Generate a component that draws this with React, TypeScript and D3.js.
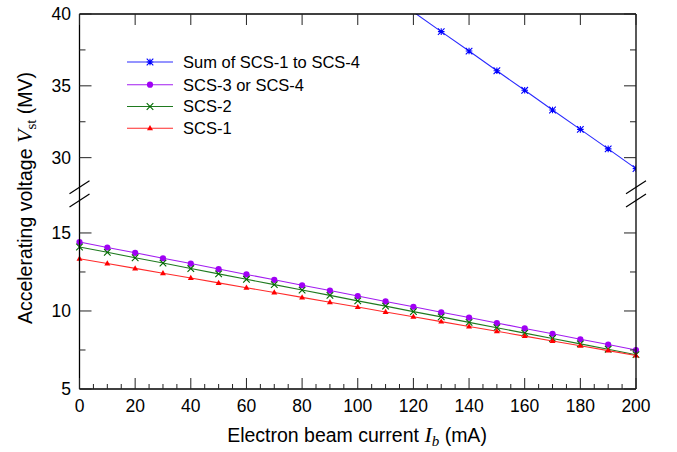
import React from "react";
import * as d3 from "d3";

// Electron beam current (mA)
const currents = [0, 10, 20, 30, 40, 50, 60, 70, 80, 90, 100, 110, 120, 130, 140, 150, 160, 170, 180, 190, 200];

// Accelerating voltage (MV) per superconducting cavity string
const scs1 = [13.35, 13.04, 12.73, 12.42, 12.11, 11.8, 11.49, 11.18, 10.87, 10.56, 10.25, 9.94, 9.63, 9.32, 9.01, 8.7, 8.39, 8.08, 7.77, 7.46, 7.15];
const scs2 = [14.1, 13.76, 13.41, 13.07, 12.72, 12.38, 12.03, 11.69, 11.34, 11.0, 10.65, 10.31, 9.96, 9.62, 9.27, 8.93, 8.58, 8.24, 7.89, 7.55, 7.2];
const scs34 = [14.42, 14.07, 13.73, 13.38, 13.04, 12.69, 12.34, 12.0, 11.65, 11.31, 10.96, 10.61, 10.27, 9.92, 9.58, 9.23, 8.88, 8.54, 8.19, 7.85, 7.5];
const scsSum = [56.52, 55.15, 53.79, 52.42, 51.06, 49.69, 48.33, 46.96, 45.6, 44.23, 42.87, 41.5, 40.14, 38.77, 37.42, 36.05, 34.69, 33.32, 31.97, 30.61, 29.24];

const xTicks = [0, 20, 40, 60, 80, 100, 120, 140, 160, 180, 200];
const yUpperTicks = [30, 35, 40];
const yLowerTicks = [5, 10, 15];

const legendLabels = ["Sum of SCS-1 to SCS-4", "SCS-3 or SCS-4", "SCS-2", "SCS-1"];

const W = 677;
const H = 452;
const left = 79.5;
const right = 636;
const top = 14;
const bottom = 389;
const breakUpperY = 186.4;
const breakLowerY = 200.2;

const x = d3.scaleLinear().domain([0, 200]).range([left, right]);
const yUp = d3.scaleLinear().domain([28, 40]).range([breakUpperY, top]);
const yLo = d3.scaleLinear().domain([5, 17.1]).range([bottom, breakLowerY]);
const y = (v: number) => (v >= 22 ? yUp(v) : yLo(v));

const SANS = "'Liberation Sans', Arial, Helvetica, sans-serif";
const SERIF = "'Liberation Serif', 'Times New Roman', serif";

type Kind = "star" | "circle" | "cross" | "triangle";

function Marker({ kind, cx, cy, color }: { kind: Kind; cx: number; cy: number; color: string }) {
  const s = 3.3;
  if (kind === "circle") return <circle cx={cx} cy={cy} r={3.1} fill={color} />;
  if (kind === "triangle")
    return (
      <path
        d={`M${cx},${cy - 3.2}L${cx + 3},${cy + 2}L${cx - 3},${cy + 2}Z`}
        fill={color}
      />
    );
  if (kind === "cross")
    return (
      <path
        d={`M${cx - s},${cy - s}L${cx + s},${cy + s}M${cx - s},${cy + s}L${cx + s},${cy - s}`}
        stroke={color}
        strokeWidth={1.1}
        fill="none"
      />
    );
  return (
    <path
      d={`M${cx - s},${cy - s}L${cx + s},${cy + s}M${cx - s},${cy + s}L${cx + s},${cy - s}M${cx},${cy - s}L${cx},${cy + s}M${cx - s},${cy}L${cx + s},${cy}`}
      stroke={color}
      strokeWidth={1.1}
      fill="none"
    />
  );
}

const series = [
  { name: legendLabels[0], values: scsSum, line: "#2b2bff", mark: "#0000ff", kind: "star" as Kind, upper: true },
  { name: legendLabels[1], values: scs34, line: "#a21cf0", mark: "#a000f5", kind: "circle" as Kind, upper: false },
  { name: legendLabels[2], values: scs2, line: "#1f7a1f", mark: "#006a00", kind: "cross" as Kind, upper: false },
  { name: legendLabels[3], values: scs1, line: "#ff2a2a", mark: "#ff0000", kind: "triangle" as Kind, upper: false },
];

export default function App() {
  const line = d3
    .line<number>()
    .x((_, i) => x(currents[i]))
    .y((v) => y(v));

  const minorX = d3.range(0, 201, 5).filter((v) => v % 20 !== 0);
  const minorYUp = [32.5, 37.5];
  const minorYLo = [7.5, 12.5];

  const slash = (cx: number, cy: number) => `M${cx - 10},${cy + 6.5}L${cx + 10},${cy - 6.5}`;
  const slashY = [187.2, 200.6];

  return (
    <div style={{ position: "fixed", left: 0, top: 0 }}>
      <svg width={W} height={H} style={{ display: "block", background: "#fff" }}>
        <defs>
          <clipPath id="upperPanel">
            <rect x={left} y={top} width={right - left} height={breakUpperY - top} />
          </clipPath>
        </defs>

        {/* series */}
        {series.map((s) => (
          <g key={s.name} clipPath={s.upper ? "url(#upperPanel)" : undefined}>
            <path d={line(s.values) || ""} fill="none" stroke={s.line} strokeWidth={1.1} />
            {s.values.map((v, i) =>
              s.upper && v > 40 ? null : (
                <Marker key={i} kind={s.kind} cx={x(currents[i])} cy={y(v)} color={s.mark} />
              )
            )}
          </g>
        ))}

        {/* frame */}
        <g stroke="#000" fill="none">
          <line x1={left} x2={right} y1={top} y2={top} strokeWidth={1.3} />
          <line x1={left} x2={right} y1={bottom} y2={bottom} strokeWidth={1.3} />
          <line x1={left} x2={left} y1={top} y2={bottom} strokeWidth={1.3} />
          <line x1={right} x2={right} y1={top} y2={bottom} strokeWidth={1.3} />
        </g>

        {/* axis break marks */}
        <g stroke="#000" strokeWidth={1.2} fill="none">
          {slashY.map((cy) => (
            <React.Fragment key={cy}>
              <path d={slash(left, cy)} />
              <path d={slash(right, cy)} />
            </React.Fragment>
          ))}
        </g>

        {/* x ticks */}
        <g stroke="#222" strokeWidth={1}>
          {xTicks.map((t) => (
            <React.Fragment key={t}>
              <line x1={x(t)} x2={x(t)} y1={bottom} y2={bottom - 11} />
              <line x1={x(t)} x2={x(t)} y1={top} y2={top + 11} />
            </React.Fragment>
          ))}
          {minorX.map((t) => (
            <line key={t} x1={x(t)} x2={x(t)} y1={bottom} y2={bottom - 5} />
          ))}
        </g>

        {/* y ticks */}
        <g stroke="#222" strokeWidth={1}>
          {yUpperTicks.map((t) => (
            <React.Fragment key={t}>
              <line x1={left} x2={left + 12} y1={yUp(t)} y2={yUp(t)} />
              <line x1={right} x2={right - 12} y1={yUp(t)} y2={yUp(t)} />
            </React.Fragment>
          ))}
          {yLowerTicks.map((t) => (
            <React.Fragment key={t}>
              <line x1={left} x2={left + 12} y1={yLo(t)} y2={yLo(t)} />
              <line x1={right} x2={right - 12} y1={yLo(t)} y2={yLo(t)} />
            </React.Fragment>
          ))}
          {minorYUp.map((t) => (
            <React.Fragment key={t}>
              <line x1={left} x2={left + 6} y1={yUp(t)} y2={yUp(t)} />
              <line x1={right} x2={right - 6} y1={yUp(t)} y2={yUp(t)} />
            </React.Fragment>
          ))}
          {minorYLo.map((t) => (
            <React.Fragment key={t}>
              <line x1={left} x2={left + 6} y1={yLo(t)} y2={yLo(t)} />
              <line x1={right} x2={right - 6} y1={yLo(t)} y2={yLo(t)} />
            </React.Fragment>
          ))}
        </g>

        {/* tick labels */}
        <g fontFamily={SANS} fontSize={17.5} fill="#000">
          {xTicks.map((t) => (
            <text key={t} x={x(t)} y={412} textAnchor="middle">
              {t}
            </text>
          ))}
          {yUpperTicks.map((t) => (
            <text key={t} x={71} y={yUp(t)} dy="0.36em" textAnchor="end">
              {t}
            </text>
          ))}
          {yLowerTicks.map((t) => (
            <text key={t} x={71} y={yLo(t)} dy="0.36em" textAnchor="end">
              {t}
            </text>
          ))}
        </g>

        {/* axis titles */}
        <text x={357} y={442} textAnchor="middle" fontFamily={SANS} fontSize={19.5}>
          Electron beam current{" "}
          <tspan fontFamily={SERIF} fontStyle="italic" fontSize={22}>
            I
          </tspan>
          <tspan fontFamily={SERIF} fontStyle="italic" fontSize={15} dy={4}>
            b
          </tspan>
          <tspan dy={-4}> (mA)</tspan>
        </text>
        <text
          transform="translate(32,198) rotate(-90)"
          textAnchor="middle"
          fontFamily={SANS}
          fontSize={19.5}
        >
          Accelerating voltage{" "}
          <tspan fontFamily={SERIF} fontStyle="italic" fontSize={22}>
            V
          </tspan>
          <tspan fontFamily={SERIF} fontSize={15} dy={4}>
            st
          </tspan>
          <tspan dy={-4}> (MV)</tspan>
        </text>

        {/* legend */}
        <g fontFamily={SANS} fontSize={16.5}>
          {series.map((s, i) => {
            const ly = [62, 84.7, 106.5, 128.3][i];
            return (
              <g key={s.name}>
                <line x1={127} x2={173} y1={ly} y2={ly} stroke={s.line} strokeWidth={1.1} />
                <Marker kind={s.kind} cx={150} cy={ly} color={s.mark} />
                <text x={183} y={ly} dy="0.36em">
                  {s.name}
                </text>
              </g>
            );
          })}
        </g>
      </svg>
    </div>
  );
}
